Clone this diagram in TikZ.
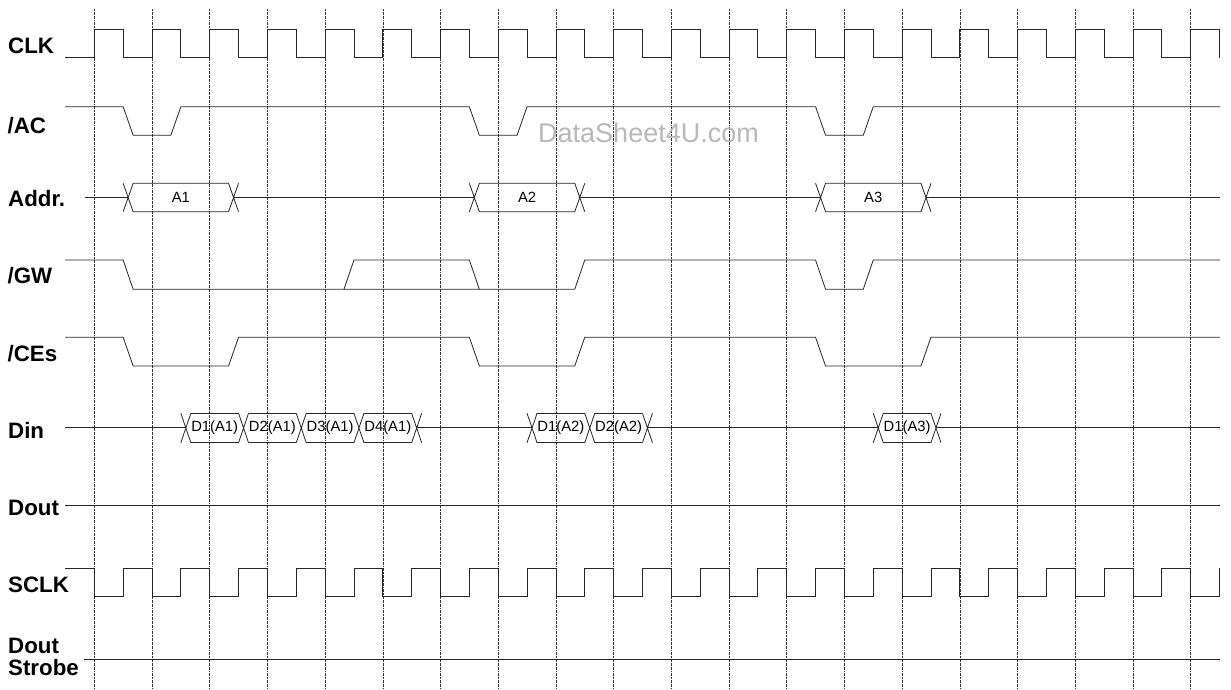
\documentclass[tikz,border=0pt]{standalone}
\usepackage{fontspec}
\setmainfont{Liberation Sans}
\begin{document}
\begin{tikzpicture}[x=1pt,y=-1pt,
  declare function={m(\k)=123.15+57.7*\k; g(\k)=94.3+57.7*\k;},
  sig/.style={line width=0.8pt, draw=black!85, line join=miter},
  gridline/.style={line width=0.6pt, draw=black!80, dash pattern=on 2pt off 0.8pt on 0.6pt off 0.8pt},
  lbl/.style={font=\fontsize{22.3}{24}\selectfont\bfseries, anchor=base west, inner sep=0pt},
  dat/.style={font=\fontsize{14.8}{16}\selectfont, inner sep=0pt},
  wm/.style={font=\fontsize{27}{29}\selectfont, text=black!28, anchor=base west, inner sep=0pt}]
\useasboundingbox (0,0) rectangle (1231,689);
\fill[white] (0,0) rectangle (1231,689);

% grid
\foreach \k in {0,...,19} {
  \draw[gridline] ({g(\k)},9) -- ({g(\k)},689);
}

% labels
\node[lbl] (lclk) at (8,53.3) {CLK};
\node[lbl] (lac) at (7.5,133.3) {/AC};
\node[lbl] (laddr) at (8,206.7) {Addr.};
\node[lbl] (lgw) at (7.5,283.3) {/GW};
\node[lbl] (lces) at (7.5,361.7) {/CEs};
\node[lbl] (ldin) at (8,438.3) {Din};
\node[lbl] (ldout) at (8,515) {Dout};
\node[lbl] (lsclk) at (8,592.7) {SCLK};
\node[lbl] (lds1) at (8,653.3) {Dout};
\node[lbl] (lds2) at (8,675) {Strobe};

% watermark
\node[wm] (wmark) at (538,142.7) {DataSheet4U.com};

% CLK
\draw[sig] (65,57.7) \foreach \k in {0,...,19} { -- ({g(\k)},57.7) -- ({g(\k)},29.3) -- ({m(\k)},29.3) -- ({m(\k)},57.7) };

% /AC
\draw[sig] (65,106.7) -- ({m(0)},106.7) -- ({m(0)+10},135.3) -- ({m(1)-10},135.3) -- ({m(1)},106.7)
  -- ({m(6)},106.7) -- ({m(6)+10},135.3) -- ({m(7)-10},135.3) -- ({m(7)},106.7)
  -- ({m(12)},106.7) -- ({m(12)+10},135.3) -- ({m(13)-10},135.3) -- ({m(13)},106.7) -- (1220,106.7);

% Addr.
\def\c{197.3}\def\t{183.3}\def\b{211.7}
\draw[sig] (85,\c) -- ({m(0)+5},\c);
\foreach \s/\e in {0/2,6/8,12/14} {
  \draw[sig] ({m(\s)},\t) -- ({m(\s)+10},\b) ({m(\s)},\b) -- ({m(\s)+10},\t)
    ({m(\s)+10},\t) -- ({m(\e)-10},\t) ({m(\s)+10},\b) -- ({m(\e)-10},\b)
    ({m(\e)-10},\t) -- ({m(\e)},\b) ({m(\e)-10},\b) -- ({m(\e)},\t);
}
\draw[sig] ({m(2)-5},\c) -- ({m(6)+5},\c);
\draw[sig] ({m(8)-5},\c) -- ({m(12)+5},\c);
\draw[sig] ({m(14)-5},\c) -- (1220,\c);
\node[dat] (a1) at ({(m(0)+m(2))/2},\c) {A1};
\node[dat] (a2) at ({(m(6)+m(8))/2},\c) {A2};
\node[dat] (a3) at ({(m(12)+m(14))/2},\c) {A3};

% /GW
\draw[sig] (65,260) -- ({m(0)},260) -- ({m(0)+10},289.3) -- ({m(8)-10},289.3) -- ({m(8)},260)
  -- ({m(12)},260) -- ({m(12)+10},289.3) -- ({m(13)-10},289.3) -- ({m(13)},260) -- (1220,260);
\draw[sig] ({m(4)-10},289.3) -- ({m(4)},260) -- ({m(6)},260) -- ({m(6)+10},289.3);

% /CEs
\draw[sig] (65,337.3) -- ({m(0)},337.3) -- ({m(0)+10},366) -- ({m(2)-10},366) -- ({m(2)},337.3)
  -- ({m(6)},337.3) -- ({m(6)+10},366) -- ({m(8)-10},366) -- ({m(8)},337.3)
  -- ({m(12)},337.3) -- ({m(12)+10},366) -- ({m(14)-10},366) -- ({m(14)},337.3) -- (1220,337.3);

% Din
\def\dc{427.3}\def\dt{413.3}\def\db{442.7}
\foreach \k in {1,2,3,4,5,7,8,9,13,14} {
  \draw[sig] ({m(\k)},\dt) -- ({m(\k)+10},\db) ({m(\k)},\db) -- ({m(\k)+10},\dt);
}
\foreach \k in {1,2,3,4,7,8,13} {
  \draw[sig] ({m(\k)+10},\dt) -- ({m(\k+1)},\dt) ({m(\k)+10},\db) -- ({m(\k+1)},\db);
}
\draw[sig] (65,\dc) -- ({m(1)+5},\dc);
\draw[sig] ({m(5)+5},\dc) -- ({m(7)+5},\dc);
\draw[sig] ({m(9)+5},\dc) -- ({m(13)+5},\dc);
\draw[sig] ({m(14)+5},\dc) -- (1220,\dc);
\node[dat] (d11) at ({m(1)+33.85},\dc) {D1(A1)};
\node[dat] (d21) at ({m(2)+33.85},\dc) {D2(A1)};
\node[dat] (d31) at ({m(3)+33.85},\dc) {D3(A1)};
\node[dat] (d41) at ({m(4)+33.85},\dc) {D4(A1)};
\node[dat] (d12) at ({m(7)+33.85},\dc) {D1(A2)};
\node[dat] (d22) at ({m(8)+33.85},\dc) {D2(A2)};
\node[dat] (d13) at ({m(13)+33.85},\dc) {D1(A3)};

% Dout
\draw[sig] (65,505) -- (1220,505);

% SCLK
\draw[sig] (65,568.3) \foreach \k in {0,...,19} { -- ({g(\k)},568.3) -- ({g(\k)},596.7) -- ({m(\k)},596.7) -- ({m(\k)},568.3) };

% Dout Strobe
\draw[sig] (84,659.3) -- (1220,659.3);
\end{tikzpicture}
\end{document}
